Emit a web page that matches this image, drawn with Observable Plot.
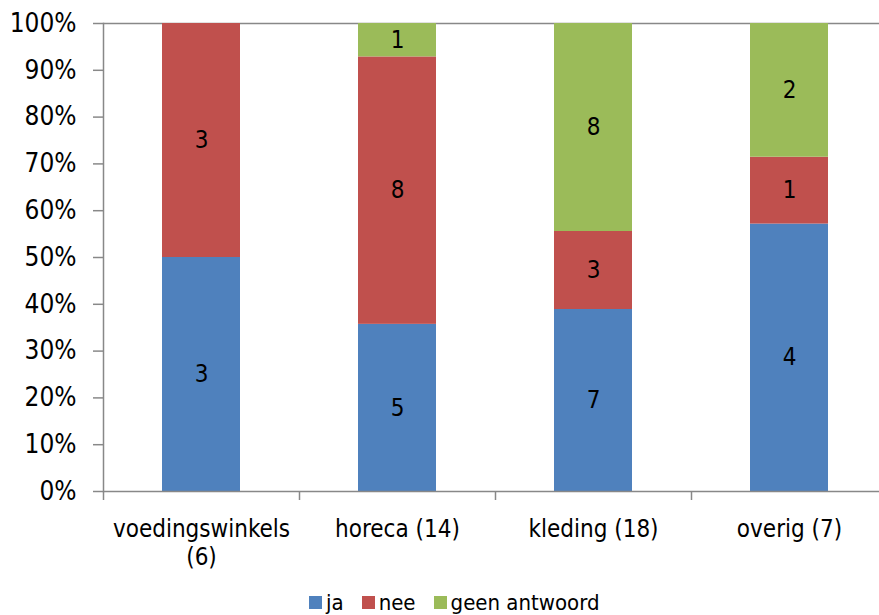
<!DOCTYPE html>
<html><head><meta charset="utf-8">
<script src="https://cdn.jsdelivr.net/npm/d3@7"></script>
<script src="https://cdn.jsdelivr.net/npm/@observablehq/plot@0.6"></script>
<style>
html,body{margin:0;padding:0;background:#fff;overflow:hidden;}
body{font-family:"Liberation Sans Narrow","Arial Narrow","DejaVu Sans Condensed",sans-serif;width:879px;height:615px;position:relative;}
#legend{position:absolute;left:309px;top:590px;display:flex;align-items:center;font-size:22px;color:#000;}
#legend .item{display:flex;align-items:center;margin-right:18px;}
#legend .sw{width:13px;height:13px;margin-right:4px;}
</style></head><body><div id="chart"></div><div id="legend"></div>
<script>
const categories = ["voedingswinkels\n(6)", "horeca (14)", "kleding (18)", "overig (7)"];
const seriesNames = ["ja", "nee", "geen antwoord"];
const ja = [3, 5, 7, 4];
const nee = [3, 8, 3, 1];
const geen = [0, 1, 8, 2];
const colors = ["#4F81BD", "#C0504D", "#9BBB59"];
const yTicks = [0, 0.1, 0.2, 0.3, 0.4, 0.5, 0.6, 0.7, 0.8, 0.9, 1];

const seriesValues = [ja, nee, geen];
const rows = [];
categories.forEach((c, i) => {
  seriesNames.forEach((s, j) => rows.push({cat: c, series: s, value: seriesValues[j][i]}));
});
const gray = "#888888";

const chart = Plot.plot({
  width: 879,
  height: 585,
  marginLeft: 103,
  marginRight: 0,
  marginTop: 23,
  marginBottom: 94,
  style: {fontFamily: '"Liberation Sans Narrow","Arial Narrow","DejaVu Sans Condensed",sans-serif', color: "#000", background: "#fff", overflow: "hidden"},
  x: {type: "band", domain: categories, range: [103, 887], paddingInner: 0.6, paddingOuter: 0.3, axis: null, label: null},
  y: {domain: [0, 1], axis: null, label: null},
  color: {domain: seriesNames, range: colors},
  marks: [
    Plot.ruleY([1], {stroke: gray, strokeWidth: 1.5}),
    Plot.barY(rows, Plot.stackY({offset: "normalize", x: "cat", y: "value", fill: "series"})),
    Plot.text(rows, Plot.stackY({offset: "normalize", x: "cat", y: "value", text: d => d.value > 0 ? String(d.value) : "", fontSize: 24, fill: "#000"})),
    Plot.ruleY([0], {stroke: gray, strokeWidth: 1.5}),
    Plot.frame({anchor: "left", stroke: gray, strokeWidth: 1.5}),
    Plot.axisY({ticks: yTicks, tickFormat: d => Math.round(d * 100) + "%", tickSize: 10, tickPadding: 17, fontSize: 26, stroke: gray, strokeWidth: 1.5, label: null}),
    Plot.axisX({tickSize: 9, tickFormat: () => "", dx: -98, stroke: gray, strokeWidth: 1.5, label: null}),
    Plot.axisX({tickSize: 0, tickPadding: 26, fontSize: 24, lineHeight: 1.15, label: null})
  ]
});
document.getElementById("chart").appendChild(chart);

const legend = document.getElementById("legend");
seriesNames.forEach((s, j) => {
  const it = document.createElement("div");
  it.className = "item";
  const sw = document.createElement("div");
  sw.className = "sw";
  sw.style.background = colors[j];
  const t = document.createElement("span");
  t.textContent = s;
  it.appendChild(sw); it.appendChild(t);
  legend.appendChild(it);
});
</script></body></html>
